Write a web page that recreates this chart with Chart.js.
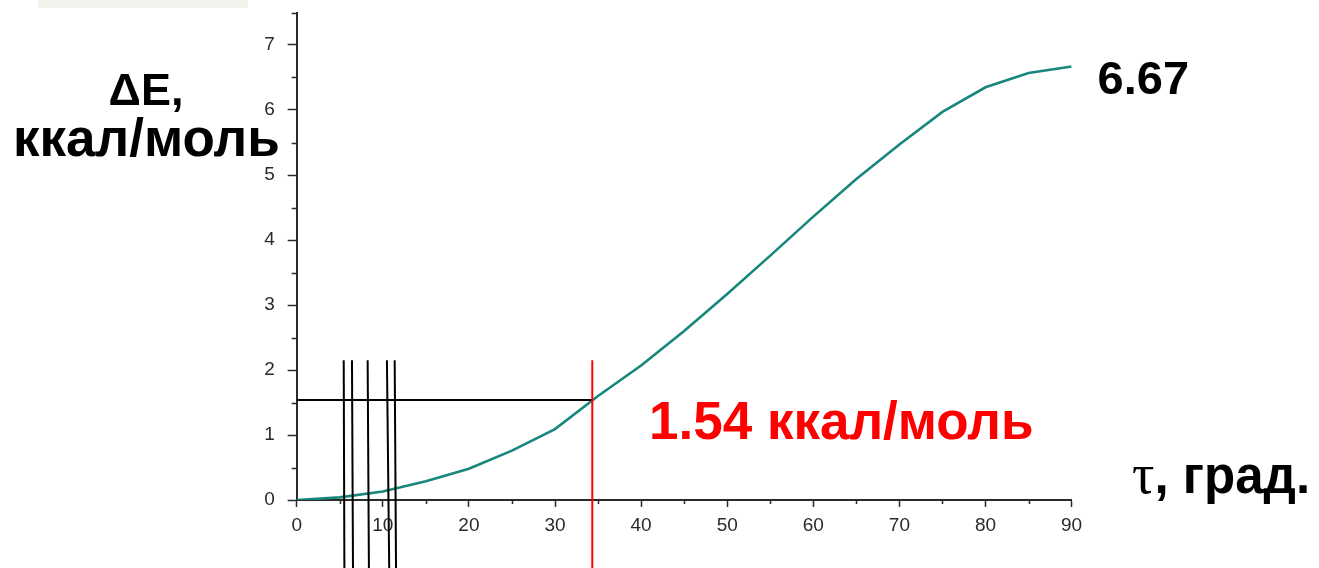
<!DOCTYPE html>
<html>
<head>
<meta charset="utf-8">
<script src="https://cdn.jsdelivr.net/npm/chart.js@4.4.1/dist/chart.umd.min.js"></script>
<style>
  html, body { margin: 0; padding: 0; background: #ffffff; }
  #wrap { width: 1319px; height: 568px; position: relative; }
</style>
</head>
<body>
<div id="wrap"><canvas id="c" width="1319" height="568"></canvas></div>
<script>
// Torsion angle, degrees
const angles = [0, 5, 10, 15, 20, 25, 30, 35, 40, 45, 50, 55, 60, 65, 70, 75, 80, 85, 90];
// Conformational energy, kcal/mol
const energy = [0, 0.04, 0.13, 0.29, 0.48, 0.76, 1.09, 1.60, 2.07, 2.60, 3.17, 3.76, 4.36, 4.94, 5.47, 5.97, 6.35, 6.57, 6.67];

const xTickLabels = [0, 10, 20, 30, 40, 50, 60, 70, 80, 90];
const yTickLabels = [0, 1, 2, 3, 4, 5, 6, 7];

// Thin vertical guide lines near small angles (top / bottom ends)
const guideAnglesTop = [5.46, 6.42, 8.24, 10.48, 11.38];
const guideAnglesBottom = [5.54, 6.54, 8.39, 10.75, 11.54];
const guideTopEnergy = 2.15;
const guideBottomEnergy = -1.1;

// Marked point on the curve
const markedAngle = 34.33;
const markedEnergy = 1.54;
const maxEnergy = 6.67;

const AXIS = '#2a2a2a';
const TEAL = '#17867b';
const TICK_FONT = { family: '"Liberation Sans", Arial, sans-serif', size: 19 };

const datasets = [{
  label: 'ΔE',
  data: angles.map((a, i) => ({ x: a, y: energy[i] })),
  borderColor: TEAL,
  borderWidth: 2.6,
  pointRadius: 0,
  tension: 0,
  order: 10
}];

guideAnglesTop.forEach((a, i) => {
  datasets.push({
    data: [{ x: a, y: guideTopEnergy }, { x: guideAnglesBottom[i], y: guideBottomEnergy }],
    borderColor: '#000000', borderWidth: 2, pointRadius: 0, clip: false, order: 1
  });
});
datasets.push({
  data: [{ x: 0, y: markedEnergy }, { x: markedAngle, y: markedEnergy }],
  borderColor: '#000000', borderWidth: 2, pointRadius: 0, clip: false, order: 2
});
datasets.push({
  data: [{ x: markedAngle, y: guideTopEnergy }, { x: markedAngle, y: guideBottomEnergy }],
  borderColor: '#ff0000', borderWidth: 2, pointRadius: 0, clip: false, order: 0
});

// Short minor ticks and slide captions
const decorations = {
  id: 'decorations',
  beforeDraw(chart) {
    const ctx = chart.ctx;
    ctx.save();
    ctx.fillStyle = '#f4f2ed';
    ctx.fillRect(38, 0, 210, 8);
    ctx.restore();
  },
  afterDraw(chart) {
    const ctx = chart.ctx;
    const xs = chart.scales.x, ys = chart.scales.y;
    const area = chart.chartArea;
    ctx.save();
    ctx.strokeStyle = AXIS;
    ctx.lineWidth = 1.5;
    ctx.beginPath();
    for (let v = 5; v < 90; v += 10) {
      const px = Math.round(xs.getPixelForValue(v)) + 0.5;
      ctx.moveTo(px, area.bottom);
      ctx.lineTo(px, area.bottom + 4);
    }
    for (let v = 0.5; v <= 7.5; v += 1) {
      const py = Math.round(ys.getPixelForValue(v)) + 0.5;
      ctx.moveTo(area.left, py);
      ctx.lineTo(area.left - 5, py);
    }
    ctx.stroke();

    ctx.textBaseline = 'alphabetic';
    ctx.fillStyle = '#000000';
    ctx.textAlign = 'center';
    ctx.font = 'bold 45px "Liberation Sans", Arial, sans-serif';
    ctx.fillText('ΔE,', 146, 105);
    ctx.textAlign = 'left';
    ctx.font = 'bold 53px "Liberation Sans", Arial, sans-serif';
    ctx.fillText('ккал/моль', 13, 156);

    ctx.font = 'bold 47px "Liberation Sans", Arial, sans-serif';
    ctx.fillText(maxEnergy.toFixed(2), xs.getPixelForValue(90) + 26, 94);

    ctx.fillStyle = '#ff0000';
    ctx.font = 'bold 53px "Liberation Sans", Arial, sans-serif';
    ctx.fillText(markedEnergy.toFixed(2) + ' ккал/моль', 649, 439);

    ctx.fillStyle = '#000000';
    ctx.font = '56px "Liberation Serif", "Times New Roman", serif';
    ctx.fillText('τ', 1132, 493);
    const tw = ctx.measureText('τ').width;
    ctx.font = 'bold 51px "Liberation Sans", Arial, sans-serif';
    ctx.fillText(', град.', 1132 + tw, 493);
    ctx.restore();
  }
};

new Chart(document.getElementById('c'), {
  type: 'line',
  data: { datasets },
  plugins: [decorations],
  options: {
    responsive: false,
    animation: false,
    events: [],
    layout: { padding: { left: 236.7, right: 247.4, top: 12.5, bottom: 28 } },
    plugins: { legend: { display: false }, tooltip: { enabled: false } },
    scales: {
      x: {
        type: 'linear',
        min: 0, max: 90,
        afterFit(s) { s.height = 40; s.paddingLeft = 0; s.paddingRight = 0; },
        ticks: {
          stepSize: 5,
          autoSkip: false,
          maxRotation: 0,
          padding: 7,
          color: AXIS,
          font: TICK_FONT,
          callback: v => xTickLabels.includes(v) ? String(v) : ''
        },
        grid: {
          drawOnChartArea: false,
          tickLength: 7,
          tickWidth: 1.5,
          tickColor: c => (c.tick && xTickLabels.includes(c.tick.value)) ? AXIS : 'rgba(0,0,0,0)'
        },
        border: { display: true, color: AXIS, width: 2 }
      },
      y: {
        type: 'linear',
        min: 0, max: 7.5,
        afterFit(s) { s.width = 60; s.paddingTop = 0; s.paddingBottom = 0; },
        ticks: {
          stepSize: 0.5,
          autoSkip: false,
          padding: 13,
          color: AXIS,
          font: TICK_FONT,
          callback: v => yTickLabels.includes(v) ? String(v) : ''
        },
        grid: {
          drawOnChartArea: false,
          tickLength: 9,
          tickWidth: 1.5,
          tickColor: c => (c.tick && yTickLabels.includes(c.tick.value)) ? AXIS : 'rgba(0,0,0,0)'
        },
        border: { display: true, color: AXIS, width: 2 }
      }
    }
  }
});
</script>
</body>
</html>
